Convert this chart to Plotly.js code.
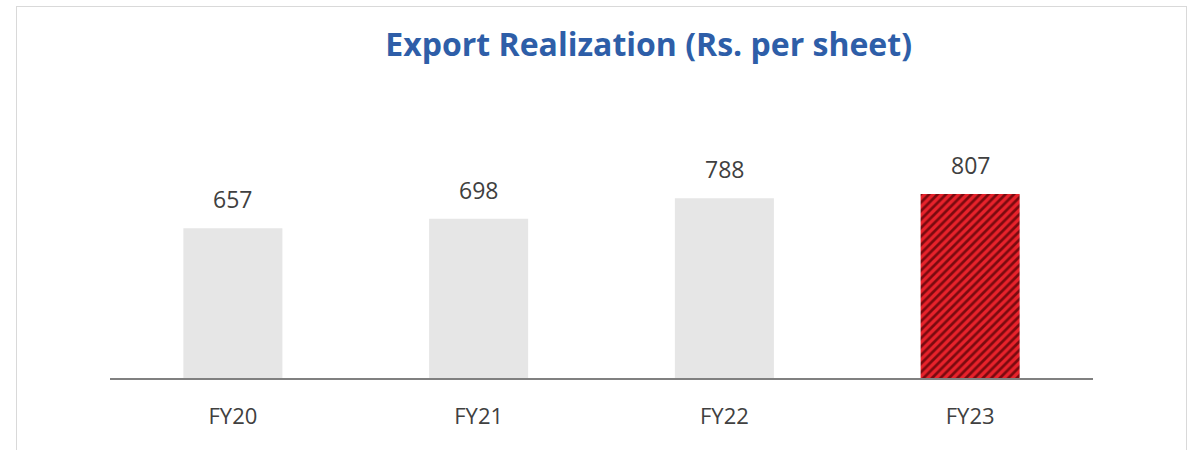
<!DOCTYPE html>
<html>
<head>
<meta charset="utf-8">
<script src="https://cdn.plot.ly/plotly-3.0.1.min.js"></script>
<style>
  html, body { margin: 0; padding: 0; background: #ffffff; }
  #wrap { position: relative; width: 1199px; height: 450px; overflow: hidden; }
  #frame { position: absolute; left: 16px; top: 6px; width: 1171px; height: 460px;
           border: 1px solid #d9d9d9; border-bottom: none; box-sizing: border-box; pointer-events: none; }
  #chart { position: absolute; left: 0; top: 0; width: 1199px; height: 450px; }
</style>
</head>
<body>
<div id="wrap">
  <div id="chart"></div>
  <div id="frame"></div>
</div>
<script>
const categories = ["FY20", "FY21", "FY22", "FY23"];
const values = [657, 698, 788, 807];
const valueLabels = ["657", "698", "788", "807"];
const highlightCategory = "FY23";

const plainIdx = categories.map((c, i) => i).filter(i => categories[i] !== highlightCategory);
const hiIdx = categories.map((c, i) => i).filter(i => categories[i] === highlightCategory);

const plainTrace = {
  type: "bar",
  x: plainIdx.map(i => categories[i]),
  y: plainIdx.map(i => values[i]),
  marker: { color: "#e6e6e6", line: { width: 0 } },
  hoverinfo: "none",
  showlegend: false
};

const hiTrace = {
  type: "bar",
  x: hiIdx.map(i => categories[i]),
  y: hiIdx.map(i => values[i]),
  marker: {
    color: "#e8222b",
    line: { width: 0 },
    pattern: {
      shape: "/",
      bgcolor: "#e8222b",
      fgcolor: "#7a0a0f",
      fgopacity: 1,
      fillmode: "replace",
      size: 6,
      solidity: 0.45
    }
  },
  hoverinfo: "none",
  showlegend: false
};

const annotations = categories.map((c, i) => ({
  x: c, y: values[i], xref: "x", yref: "y",
  text: valueLabels[i], showarrow: false,
  yanchor: "bottom", yshift: 11,
  font: { family: "Open Sans, Noto Sans, sans-serif", size: 23, color: "#404040" }
}));

const layout = {
  width: 1199, height: 450,
  margin: { l: 110, r: 106, t: 80, b: 72 },
  paper_bgcolor: "rgba(0,0,0,0)",
  plot_bgcolor: "rgba(0,0,0,0)",
  barmode: "overlay",
  bargap: 0.597,
  title: {
    text: "<b>Export Realization (Rs. per sheet)</b>",
    font: { family: "Open Sans, Noto Sans, sans-serif", size: 32, color: "#2e5ea8" },
    xref: "container", x: 0.541, xanchor: "center",
    yref: "container", y: 0.9, yanchor: "middle"
  },
  xaxis: {
    type: "category",
    categoryorder: "array", categoryarray: categories,
    showline: true, linecolor: "#808080", linewidth: 1.5,
    showgrid: false, zeroline: false, ticks: "",
    tickfont: { family: "Open Sans, Noto Sans, sans-serif", size: 22, color: "#404040" },
    ticklabelstandoff: 18
  },
  yaxis: {
    range: [0, 1307],
    visible: false, showgrid: false, zeroline: false, fixedrange: true
  },
  annotations: annotations
};

Plotly.newPlot("chart", [plainTrace, hiTrace], layout, { displayModeBar: false, staticPlot: true });
</script>
</body>
</html>
